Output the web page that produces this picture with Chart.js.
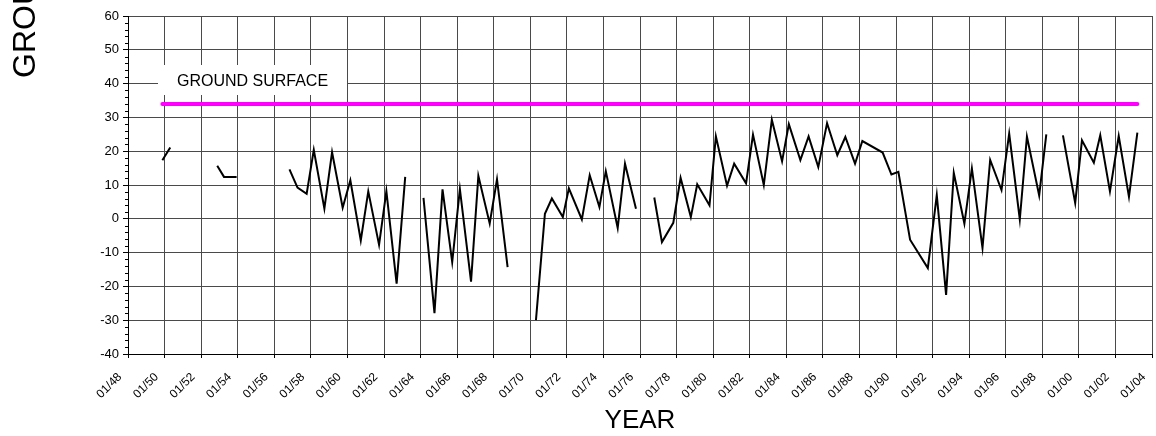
<!DOCTYPE html>
<html>
<head>
<meta charset="utf-8">
<title>Groundwater elevation</title>
<script src="https://cdn.jsdelivr.net/npm/chart.js@4.4.1/dist/chart.umd.min.js"></script>
<style>
    html, body { margin: 0; padding: 0; background: #ffffff; }
    #hidrograma { display: block; }
</style>
</head>
<body>
<canvas id="hidrograma" width="1156" height="436"></canvas>
<script>
// Datas das medições (ano decimal) e nível d'água; null = falha no registro
const measureDates = [
    1949.88, 1950.31,
    1951.60,
    1952.88, 1953.25, 1953.94,
    1955.40,
    1956.83, 1957.27, 1957.77, 1958.16, 1958.74, 1959.16, 1959.74, 1960.16,
    1960.73, 1961.14, 1961.73, 1962.13, 1962.69, 1963.16,
    1963.70,
    1964.16, 1964.76, 1965.20, 1965.73, 1966.15, 1966.76, 1967.16, 1967.78,
    1968.18, 1968.76,
    1969.50,
    1970.31, 1970.80, 1971.18, 1971.78, 1972.11, 1972.82, 1973.25, 1973.78,
    1974.13, 1974.78, 1975.18, 1975.78,
    1976.30,
    1976.78, 1977.20, 1977.82, 1978.22, 1978.78, 1979.13, 1979.80, 1980.15,
    1980.76, 1981.15, 1981.80, 1982.18, 1982.77, 1983.21, 1983.77, 1984.14,
    1984.77, 1985.22, 1985.75, 1986.23, 1986.79, 1987.23, 1987.76, 1988.16,
    1989.27, 1989.75, 1990.13, 1990.77, 1991.74, 1992.23, 1992.74, 1993.16,
    1993.74, 1994.15, 1994.73, 1995.15, 1995.77, 1996.19, 1996.77, 1997.16,
    1997.83, 1998.22,
    1998.70,
    1999.13, 1999.80, 2000.17, 2000.82, 2001.17, 2001.70, 2002.18, 2002.74,
    2003.20
];
const waterLevels = [
    17.3, 21.1,
    null,
    15.7, 12.4, 12.4,
    null,
    14.6, 9.2, 7.4, 20.4, 3.0, 19.7, 3.3, 11.4,
    -6.4, 8.1, -7.7, 8.2, -19.2, 12.4,
    null,
    6.2, -27.9, 8.7, -12.8, 8.8, -18.6, 12.7, -1.4,
    11.7, -14.3,
    null,
    -30.0, 1.5, 6.0, 0.5, 9.0, -0.2, 12.9, 3.5,
    14.1, -2.7, 16.3, 3.0,
    null,
    6.3, -6.9, -1.2, 12.1, 0.5, 10.2, 4.0, 24.4,
    9.8, 16.3, 10.5, 24.9, 10.0, 29.3, 17.0, 28.0,
    17.4, 24.4, 15.3, 28.3, 18.8, 24.2, 16.3, 23.0,
    19.6, 13.1, 13.9, -6.2, -14.6, 7.0, -22.5, 13.6,
    -1.4, 14.9, -8.6, 17.4, 8.5, 25.2, -0.2, 24.3,
    6.9, 25.0,
    null,
    24.7, 4.7, 23.2, 16.6, 24.7, 8.1, 24.5, 6.5,
    25.5
];

// Cota do terreno (linha magenta) entre a primeira e a última medição
const groundSurfaceLevel = 34;
const groundSurfaceDates = [1949.88, 2003.20];

// Marcas dos eixos
const yearTicks = [1948, 1950, 1952, 1954, 1956, 1958, 1960, 1962, 1964, 1966,
    1968, 1970, 1972, 1974, 1976, 1978, 1980, 1982, 1984, 1986, 1988, 1990,
    1992, 1994, 1996, 1998, 2000, 2002, 2004];
const levelTicks = [-40, -30, -20, -10, 0, 10, 20, 30, 40, 50, 60];
const levelMinorStep = 2;

const yTitle = 'GROUNDWATER ELEVATION (FEET)';
const xTitle = 'YEAR';
const groundLabel = 'GROUND SURFACE';

const FONT = 'Arial, "Liberation Sans", Helvetica, sans-serif';
Chart.defaults.font.family = FONT;
Chart.defaults.color = '#000000';

// Marcas menores do eixo Y, caixa "GROUND SURFACE" e título vertical cortado
const extrasPlugin = {
    id: 'extras',
    beforeDatasetsDraw(chart) {
        const ctx = chart.ctx;
        const y = chart.scales.y;
        const x = chart.scales.x;
        ctx.save();
        // marcas menores
        ctx.strokeStyle = '#000000';
        ctx.lineWidth = 1;
        ctx.beginPath();
        for (let v = levelTicks[0]; v <= levelTicks[levelTicks.length - 1]; v += levelMinorStep) {
            if (v % 10 === 0) continue;
            const py = Math.round(y.getPixelForValue(v)) + 0.5;
            ctx.moveTo(x.left - 3, py);
            ctx.lineTo(x.left, py);
        }
        ctx.stroke();
        // caixa do rótulo
        ctx.fillStyle = '#ffffff';
        ctx.fillRect(158, 65, 189, 30);
        ctx.fillStyle = '#000000';
        ctx.font = '16px ' + FONT;
        ctx.textAlign = 'center';
        ctx.textBaseline = 'alphabetic';
        ctx.fillText(groundLabel, 252.5, 85.5);
        ctx.restore();
    },
    afterDraw(chart) {
        const ctx = chart.ctx;
        ctx.save();
        ctx.fillStyle = '#000000';
        ctx.font = '32px ' + FONT;
        ctx.translate(35, 78);
        ctx.rotate(-Math.PI / 2);
        ctx.textAlign = 'left';
        ctx.textBaseline = 'alphabetic';
        ctx.fillText(yTitle, 0, 0);
        ctx.restore();
    }
};

const levelPoints = measureDates.map((d, i) => ({ x: d, y: waterLevels[i] }));
const groundPoints = groundSurfaceDates.map(d => ({ x: d, y: groundSurfaceLevel }));

new Chart(document.getElementById('hidrograma'), {
    type: 'line',
    data: {
        datasets: [
            {
                label: 'Ground surface',
                data: groundPoints,
                borderColor: '#ff00ff',
                borderWidth: 4,
                borderCapStyle: 'round',
                pointRadius: 0,
                fill: false
            },
            {
                label: 'Water level',
                data: levelPoints,
                borderColor: '#000000',
                borderWidth: 2,
                borderJoinStyle: 'miter',
                pointRadius: 0,
                tension: 0,
                spanGaps: false,
                fill: false
            }
        ]
    },
    options: {
        responsive: false,
        animation: false,
        devicePixelRatio: 1,
        layout: {
            padding: { top: 16, right: 4, left: 0, bottom: 0 }
        },
        plugins: {
            legend: { display: false },
            tooltip: { enabled: false }
        },
        scales: {
            x: {
                type: 'linear',
                min: 1948,
                max: 2004,
                afterBuildTicks: (scale) => {
                    scale.ticks = yearTicks.map(v => ({ value: v }));
                },
                afterFit: (scale) => {
                    scale.height = 82;
                    scale.paddingRight = 0;
                    scale.paddingLeft = 0;
                },
                grid: {
                    color: '#4a4a4a',
                    tickColor: '#000000',
                    tickLength: 4
                },
                border: { color: '#000000', width: 1 },
                ticks: {
                    autoSkip: false,
                    minRotation: 45,
                    maxRotation: 45,
                    padding: 12,
                    labelOffset: -8,
                    font: { size: 12 },
                    callback: (v) => '01/' + String(v % 100).padStart(2, '0')
                },
                title: {
                    display: true,
                    text: xTitle,
                    font: { size: 26 },
                    padding: 0
                }
            },
            y: {
                min: -40,
                max: 60,
                afterBuildTicks: (scale) => {
                    scale.ticks = levelTicks.map(v => ({ value: v }));
                },
                afterFit: (scale) => {
                    scale.width = 128;
                },
                grid: {
                    color: '#4a4a4a',
                    tickColor: '#000000',
                    tickLength: 5
                },
                border: { color: '#000000', width: 1 },
                ticks: {
                    padding: 4,
                    font: { size: 13 }
                }
            }
        }
    },
    plugins: [extrasPlugin]
});
</script>
</body>
</html>
